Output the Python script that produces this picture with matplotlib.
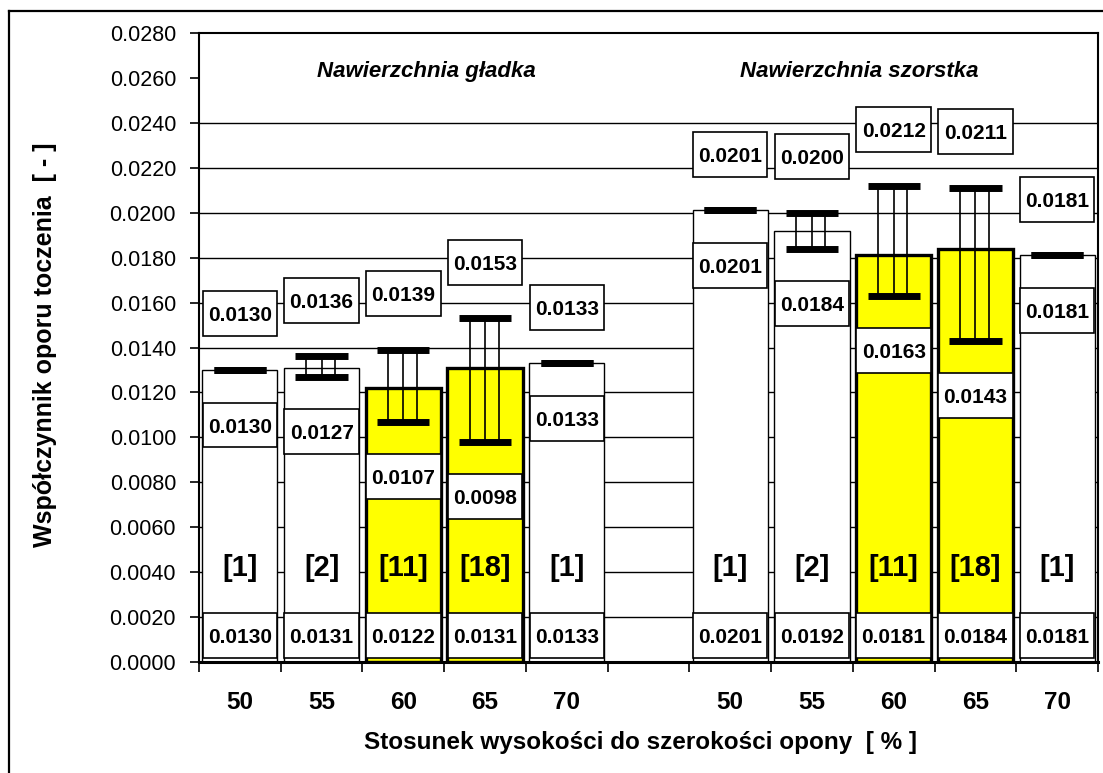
import matplotlib
matplotlib.use('Agg')
import matplotlib.pyplot as plt
from matplotlib.patches import Rectangle
from matplotlib.lines import Line2D
import numpy as np

plt.rcParams['font.family'] = ['Liberation Sans', 'DejaVu Sans']

# ---------------- data ----------------
ratios = ['50', '55', '60', '65', '70']
surfaces = ['Nawierzchnia gładka', 'Nawierzchnia szorstka']

smooth_mean = [0.0130, 0.0131, 0.0122, 0.0131, 0.0133]
smooth_min = [0.0130, 0.0127, 0.0107, 0.0098, 0.0133]
smooth_max = [0.0130, 0.0136, 0.0139, 0.0153, 0.0133]

rough_mean = [0.0201, 0.0192, 0.0181, 0.0184, 0.0181]
rough_min = [0.0201, 0.0184, 0.0163, 0.0143, 0.0181]
rough_max = [0.0201, 0.0200, 0.0212, 0.0211, 0.0181]

tyre_counts = [1, 2, 11, 18, 1]

y_ticks = [0.0000, 0.0020, 0.0040, 0.0060, 0.0080, 0.0100, 0.0120, 0.0140,
           0.0160, 0.0180, 0.0200, 0.0220, 0.0240, 0.0260, 0.0280]

ylabel = 'Współczynnik oporu toczenia  [ - ]'
xlabel = 'Stosunek wysokości do szerokości opony  [ % ]'

# ---------------- figure ----------------
W, H = 1103, 773
fig = plt.figure(figsize=(W / 100, H / 100), dpi=100)
ax = fig.add_axes([199 / W, 1 - 662 / H, (1098 - 199) / W, (662 - 33) / H])

ax.set_xlim(-0.5, 10.5)
ax.set_ylim(0, 0.028)

# gridlines
for y in y_ticks[1:-1]:
    if abs(y - 0.026) < 1e-9:
        continue
    ax.axhline(y, color='black', lw=1.0, zorder=1)

bar_w = 0.92
box_w = 0.91
box_h = 0.0020
cap_half = 0.32
line_dx = [-0.19, 0.0, 0.165]


def label_box(x, yc, text):
    ax.add_patch(Rectangle((x - box_w / 2, yc - box_h / 2), box_w, box_h,
                           facecolor='white', edgecolor='black', lw=1.2, zorder=4))
    ax.text(x, yc, text, ha='center', va='center_baseline', fontsize=15,
            fontweight='bold', zorder=5)


groups = [(smooth_mean, smooth_min, smooth_max), (rough_mean, rough_min, rough_max)]
title_x = [2.28, 7.58]

for g, (means, mins, maxs) in enumerate(groups):
    xs = [g * 6 + i for i in range(len(ratios))]
    for i, x in enumerate(xs):
        highlight = tyre_counts[i] > 5
        ax.bar(x, means[i], width=bar_w,
               color='#FFFF00' if highlight else 'white',
               edgecolor='black', lw=2.4 if highlight else 1.0, zorder=2)
        # min-max range markers
        for dx in line_dx:
            ax.plot([x + dx, x + dx], [mins[i], maxs[i]], color='black', lw=1.2,
                    zorder=3)
        for v in (mins[i], maxs[i]):
            ax.plot([x - cap_half, x + cap_half], [v, v], color='black', lw=5,
                    solid_capstyle='butt', zorder=3)
        # labels
        label_box(x, 0.0012, f'{means[i]:.4f}')
        label_box(x, mins[i] - 0.00245, f'{mins[i]:.4f}')
        label_box(x, maxs[i] + 0.0025, f'{maxs[i]:.4f}')
        ax.text(x, 0.0042, f'[{tyre_counts[i]}]', ha='center', va='center',
                fontsize=21, fontweight='bold', zorder=5)
    ax.text(title_x[g], 0.0263, surfaces[g], ha='center', va='center',
            fontsize=16, fontweight='bold', style='italic', zorder=5)

# axes styling
ax.set_yticks(y_ticks)
ax.set_yticklabels([f'{v:.4f}' for v in y_ticks])
ax.tick_params(axis='y', direction='out', length=6.5, width=1.2, pad=10,
               labelsize=15.5)

ax.set_xticks(np.arange(-0.5, 11.0, 1.0))
ax.set_xticklabels([])
ax.tick_params(axis='x', which='major', direction='out', length=7.5, width=1.2)
cat_pos = list(range(11))
cat_lab = ratios + [''] + ratios
ax.set_xticks(cat_pos, minor=True)
ax.set_xticklabels(cat_lab, minor=True)
ax.tick_params(axis='x', which='minor', length=0, pad=21, labelsize=17.5)
for t in ax.get_xticklabels(minor=True):
    t.set_fontweight('bold')

for s in ['left', 'right', 'top']:
    ax.spines[s].set_linewidth(1.5)
ax.spines['bottom'].set_linewidth(2.2)
ax.spines['bottom'].set_zorder(6)

fig.text(45 / W, 1 - 345 / H, ylabel, rotation=90, ha='center', va='center',
         fontsize=18, fontweight='bold')
fig.text(640 / W, 1 - 743 / H, xlabel, ha='center', va='center',
         fontsize=17.5, fontweight='bold')

# outer chart frame
fx = 8.5 / W
fy = 1 - 10.5 / H
fig.add_artist(Line2D([fx, fx], [-0.01, fy], transform=fig.transFigure,
                      color='black', lw=1.6))
fig.add_artist(Line2D([fx, 1.01], [fy, fy], transform=fig.transFigure,
                      color='black', lw=1.6))

fig.savefig('out.png', dpi=100)
